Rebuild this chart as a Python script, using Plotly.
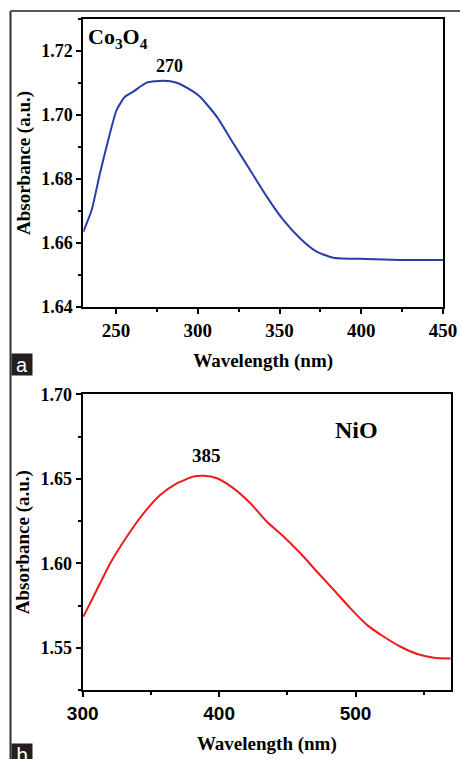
import plotly.graph_objects as go

# Co3O4 spectrum
co_wavelength = [230, 235.1, 240.2, 246.3, 250.4, 255.5, 260.6, 268.8, 278.9, 287.1, 297.3,
                 301.4, 311.6, 321.7, 332, 342.2, 352.3, 362.5, 372.7, 382.9, 403.3, 423.7, 450]
co_absorbance = [1.6635, 1.6703, 1.6818, 1.6943, 1.7016, 1.7057, 1.7073, 1.7101, 1.7107, 1.7101, 1.7073,
                 1.7057, 1.6995, 1.6912, 1.6828, 1.6745, 1.6672, 1.6615, 1.6573, 1.6554, 1.6550, 1.6547, 1.6547]

# NiO spectrum
ni_wavelength = [300.5, 310.3, 320.1, 332.3, 344.6, 356.8, 369, 381.3, 388.6, 398.4, 410.6, 422.9,
                 435.1, 447.4, 459.6, 471.8, 484.1, 496.3, 508.6, 520.8, 533, 545.3, 557.5, 569.8]
ni_absorbance = [1.5684, 1.5842, 1.5999, 1.6157, 1.6295, 1.6404, 1.6473, 1.6513, 1.6518, 1.6503, 1.6443, 1.6355,
                 1.6246, 1.6157, 1.6059, 1.5950, 1.5842, 1.5733, 1.5634, 1.5565, 1.5506, 1.5463, 1.5441, 1.5437]

co_peak_label = "270"
ni_peak_label = "385"

W, H = 460, 759
def px(x): return x / W
def py(y): return 1 - y / H

serif = "Liberation Serif"
sans = "Liberation Sans"

fig = go.Figure()
fig.add_trace(go.Scatter(x=co_wavelength, y=co_absorbance, mode="lines",
                         line=dict(color="#2b3da8", width=2, shape="spline", smoothing=0.6),
                         xaxis="x", yaxis="y", showlegend=False, hoverinfo="skip"))
fig.add_trace(go.Scatter(x=ni_wavelength, y=ni_absorbance, mode="lines",
                         line=dict(color="#ee1b1b", width=2, shape="spline", smoothing=0.6),
                         xaxis="x2", yaxis="y2", showlegend=False, hoverinfo="skip"))

axis_common = dict(showline=True, linecolor="black", linewidth=2, mirror=True,
                   ticks="outside", ticklen=5, tickwidth=1.5, tickcolor="black",
                   showgrid=False, zeroline=False, automargin=False)

fig.update_layout(
    width=W, height=H, margin=dict(l=0, r=0, t=0, b=0),
    paper_bgcolor="white", plot_bgcolor="white",
    xaxis=dict(domain=[px(83.3), px(443)], anchor="y", range=[230, 450], dtick=50, tick0=0,
               minor=dict(dtick=25, tick0=0, ticks="outside", ticklen=3, tickcolor="black"),
               tickfont=dict(family=serif, size=19, color="black", weight="bold"),
               title=dict(text="<b>Wavelength (nm)</b>", font=dict(family=serif, size=19, color="black"), standoff=14),
               **axis_common),
    yaxis=dict(domain=[py(307), py(19)], anchor="x", range=[1.64, 1.73], dtick=0.02, tick0=1.64,
               tickformat=".2f",
               minor=dict(dtick=0.01, tick0=1.64, ticks="outside", ticklen=3, tickcolor="black"),
               tickfont=dict(family=serif, size=18, color="black", weight="bold"),
               title=dict(text="<b>Absorbance (a.u.)</b>", font=dict(family=serif, size=19, color="black"), standoff=6),
               **axis_common),
    xaxis2=dict(domain=[px(82.7), px(451)], anchor="y2", range=[300, 570], dtick=100, tick0=0,
                minor=dict(dtick=50, tick0=0, ticks="outside", ticklen=3, tickcolor="black"),
                tickfont=dict(family=sans, size=19, color="black", weight="bold"),
                title=dict(text="<b>Wavelength (nm)</b>", font=dict(family=serif, size=19, color="black"), standoff=14),
                **axis_common),
    yaxis2=dict(domain=[py(690), py(394.3)], anchor="x2", range=[1.525, 1.70], dtick=0.05, tick0=1.55,
                tickformat=".2f",
                minor=dict(dtick=0.025, tick0=1.525, ticks="outside", ticklen=3, tickcolor="black"),
                tickfont=dict(family=serif, size=18, color="black", weight="bold"),
                title=dict(text="<b>Absorbance (a.u.)</b>", font=dict(family=serif, size=19, color="black"), standoff=6),
                **axis_common),
)

# panel labels / annotations
fig.add_annotation(x=px(86), y=py(38), xref="paper", yref="paper", xanchor="left", yanchor="middle",
                   text="<b>Co<sub>3</sub>O<sub>4</sub></b>", showarrow=False,
                   font=dict(family=serif, size=22, color="black"))
fig.add_annotation(x=283, y=1.7153, xref="x", yref="y", text="<b>" + co_peak_label + "</b>", showarrow=False,
                   font=dict(family=serif, size=18, color="black"))
fig.add_annotation(x=px(380), y=py(430), xref="paper", yref="paper", text="<b>NiO</b>", showarrow=False,
                   font=dict(family=serif, size=24, color="black"))
fig.add_annotation(x=px(206), y=py(455), xref="paper", yref="paper", text="<b>" + ni_peak_label + "</b>",
                   showarrow=False, font=dict(family=serif, size=19, color="black"))

# outer frame
fig.add_shape(type="line", xref="paper", yref="paper", x0=px(10.5), x1=px(10.5), y0=py(11), y1=0,
              line=dict(color="#333", width=2))
fig.add_shape(type="line", xref="paper", yref="paper", x0=px(10.5), x1=1, y0=py(11), y1=py(11),
              line=dict(color="#555", width=2))

# sub-figure letter boxes (annotations with background)
fig.add_annotation(x=px(11), y=py(353), xref="paper", yref="paper", xanchor="left", yanchor="top",
                   text="a", showarrow=False, bgcolor="#231f20", width=18, height=19, borderpad=1,
                   font=dict(family=sans, size=20, color="white"))
fig.add_annotation(x=px(11), y=py(743), xref="paper", yref="paper", xanchor="left", yanchor="top",
                   text="b", showarrow=False, bgcolor="#231f20", width=18, height=19, borderpad=1,
                   font=dict(family=sans, size=20, color="white"))

fig.write_html("out.html", config={"displayModeBar": False},
               post_script="document.body.style.margin='0';document.body.style.overflow='hidden';")
